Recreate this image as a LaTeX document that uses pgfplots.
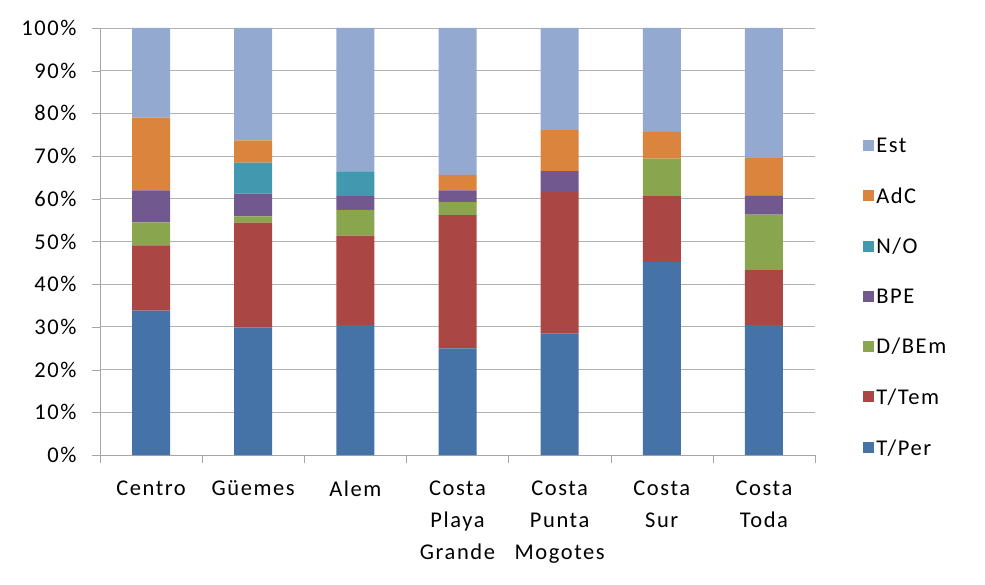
\documentclass[border=0pt]{standalone}
\usepackage{pgfplots}
\pgfplotsset{compat=1.18}
\usepackage{fontspec}
\setmainfont{Carlito}[LetterSpace=7]
\definecolor{cPer}{HTML}{4572A7}
\definecolor{cTem}{HTML}{AA4643}
\definecolor{cDBE}{HTML}{89A54E}
\definecolor{cBPE}{HTML}{71588F}
\definecolor{cNO}{HTML}{4198AF}
\definecolor{cAdC}{HTML}{DB843D}
\definecolor{cEst}{HTML}{93A9CF}
\begin{document}
\begin{tikzpicture}[x=1pt,y=1pt]
\useasboundingbox (0,0) rectangle (985,584);
\begin{axis}[
  at={(100pt,129pt)}, anchor=south west,
  scale only axis, width=715pt, height=427pt,
  ybar stacked, bar width=38pt,
  xmin=-0.5, xmax=6.5, ymin=0, ymax=100,
  axis lines=left, axis line style={draw=gray!70, -},
  ytick={0,10,...,100},
  yticklabel={\pgfmathprintnumber{\tick}\%},
  ymajorgrids, grid style={gray!60, line width=0.9pt},
  y tick style={draw=gray!70}, tick align=outside, major tick length=8pt,
  yticklabel style={font=\fontsize{22.5}{26}\selectfont, xshift=-12pt, text=black},
  /pgf/number format/assume math mode=true,
  xtick={0,...,6},
  xticklabels={Centro,Güemes,Alem,{Costa\\Playa\\Grande},{Costa\\Punta\\Mogotes},{Costa\\Sur},{Costa\\Toda}},
  xticklabel style={font=\fontsize{22.5}{32}\selectfont, align=center, anchor=north, yshift=-14pt, text=black},
  x tick style={draw=none},
  extra x ticks={-0.5,0.5,...,6.5},
  extra x tick labels={},
  extra x tick style={grid=none, x tick style={draw=gray!70}, major tick length=8pt},
  legend style={at={(1.063,0.752)}, anchor=north west, draw=none, fill=none,
    font=\fontsize{22.5}{26}\selectfont, row sep=29.5pt, text=black},
  legend cell align=left,
  reverse legend,
  legend image code/.code={\fill[#1] (0pt,-5pt) rectangle (11pt,6pt);},
  every axis plot/.append style={draw=none},
]
\addplot[fill=cPer] coordinates {(0,33.8) (1,29.9) (2,30.4) (3,25.0) (4,28.4) (5,45.2) (6,30.4)};
\addplot[fill=cTem] coordinates {(0,15.3) (1,24.5) (2,21.0) (3,31.2) (4,33.2) (5,15.4) (6,12.9)};
\addplot[fill=cDBE] coordinates {(0,5.4) (1,1.5) (2,6.0) (3,3.0) (4,0) (5,8.8) (6,13.0)};
\addplot[fill=cBPE] coordinates {(0,7.5) (1,5.3) (2,3.2) (3,2.8) (4,4.9) (5,0) (6,4.5)};
\addplot[fill=cNO] coordinates {(0,0) (1,7.3) (2,5.8) (3,0) (4,0) (5,0) (6,0)};
\addplot[fill=cAdC] coordinates {(0,17.0) (1,5.2) (2,0) (3,3.6) (4,9.6) (5,6.3) (6,8.7)};
\addplot[fill=cEst] coordinates {(0,21.0) (1,26.3) (2,33.6) (3,34.4) (4,23.9) (5,24.3) (6,30.5)};
\legend{T/Per,T/Tem,D/BEm,BPE,N/O,AdC,Est}
\end{axis}
\end{tikzpicture}
\end{document}
